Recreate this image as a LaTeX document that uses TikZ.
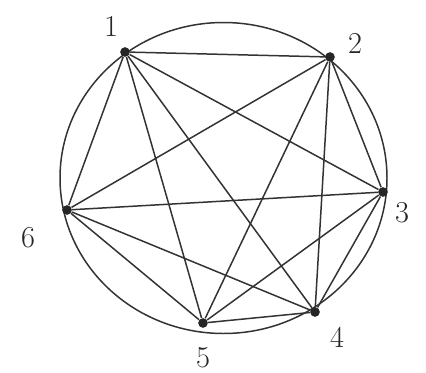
\documentclass[tikz,border=0pt]{standalone}
\usetikzlibrary{positioning}

\begin{document}
\begin{tikzpicture}[
    x=0.02cm, y=-0.02cm,
    vtx/.style={circle, fill=black!85, inner sep=0pt, minimum size=5.5pt},
    num/.style={font=\LARGE, text=black!85},
    chord/.style={black!80, line width=0.85pt}
  ]
  \useasboundingbox (0,0) rectangle (426,372);

  %% Outer circle
  \draw[chord] (223.5,178) ellipse [x radius=163.5, y radius=155.5];

  %% The six points
  \node (v1) [vtx] at (125,52)  {};
  \node (v2) [vtx] at (330,57)  {};
  \node (v3) [vtx] at (383,192) {};
  \node (v4) [vtx] at (315,312) {};
  \node (v5) [vtx] at (203,323) {};
  \node (v6) [vtx] at (67,210)  {};

  %% Point numbers
  \node (l1) [num] at (111,26)  {1};
  \node (l2) [num] at (355,43)  {2};
  \node (l3) [num] at (402,213) {3};
  \node (l4) [num] at (337,337) {4};
  \node (l5) [num] at (203,358) {5};
  \node (l6) [num] at (28,238)  {6};

  %% All chords
  \foreach \a/\b in {1/2,1/3,1/4,1/5,1/6,2/3,2/4,2/5,2/6,3/4,3/5,3/6,4/5,4/6,5/6}
    \draw[chord] (v\a) -- (v\b);

\end{tikzpicture}
\end{document}
